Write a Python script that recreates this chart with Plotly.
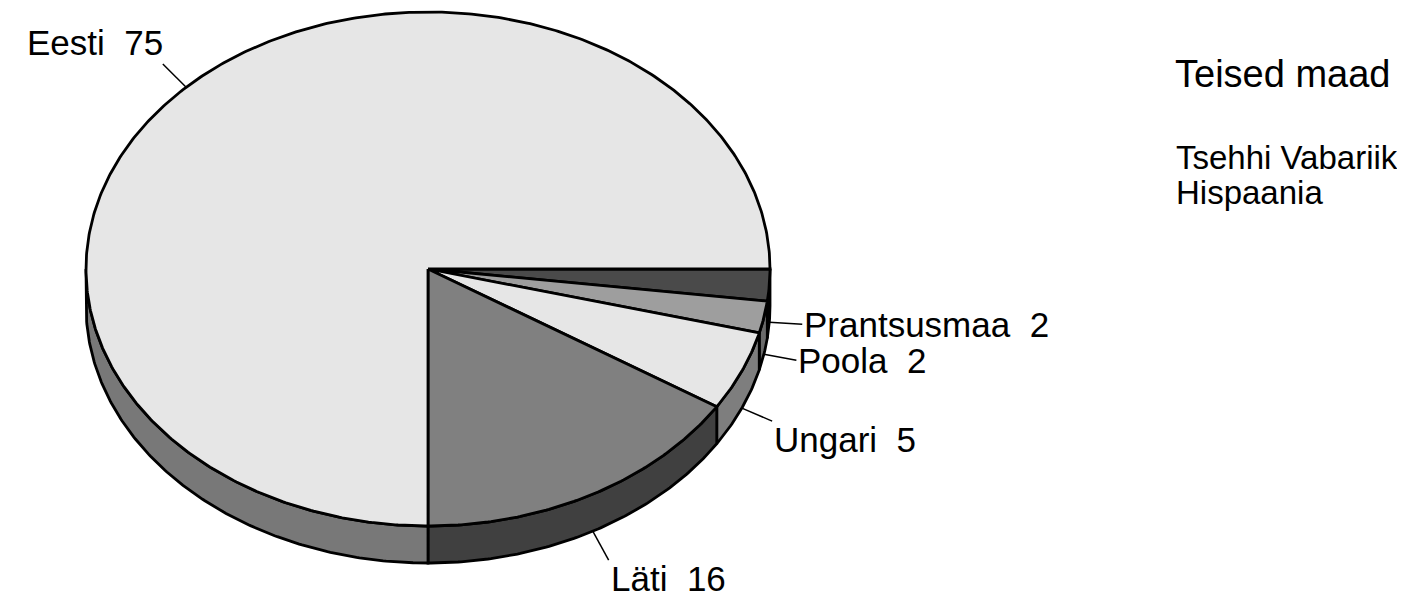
import numpy as np
import plotly.graph_objects as go

# ---- data ----
countries = ["Prantsusmaa", "Poola", "Ungari", "Läti", "Eesti"]
values = [2, 2, 5, 16, 75]
legend_title = "Teised maad"
other_countries = ["Tsehhi Vabariik", "Hispaania"]

# ---- style ----
top_colors = ["#4a4a4a", "#9e9e9e", "#e6e6e6", "#808080", "#e6e6e6"]
side_colors = ["#2a2a2a", "#6a6a6a", "#7e7e7e", "#404040", "#787878"]
W, H = 1405, 598
OFF = 8  # browser body margin
CX, CY, RX, RY, DEPTH = 428, 269, 342, 257, 37
LEADER = 33
FONT = "Liberation Sans, Arial, sans-serif"
LW = 2.8


def pt(t_deg, dz=0.0):
    t = np.radians(t_deg)
    return CX + RX * np.cos(t), CY + RY * np.sin(t) + dz


total = float(sum(values))
bounds = np.concatenate([[0.0], np.cumsum(values) / total * 360.0])

fig = go.Figure()

# side walls (front half only)
for i, name in enumerate(countries):
    a, b = bounds[i], bounds[i + 1]
    lo, hi = max(a, 0.0), min(b, 180.0)
    if hi <= lo:
        continue
    ts = np.linspace(lo, hi, max(8, int((hi - lo) * 2)))
    xt, yt = pt(ts)
    xb, yb = pt(ts[::-1], DEPTH)
    xs = np.concatenate([xt, xb, xt[:1]])
    ys = np.concatenate([yt, yb, yt[:1]])
    fig.add_trace(go.Scatter(x=xs, y=ys, mode="lines", fill="toself",
                             fillcolor=side_colors[i],
                             line=dict(color="black", width=LW),
                             hoverinfo="skip", showlegend=False))

# top faces
for i, name in enumerate(countries):
    a, b = bounds[i], bounds[i + 1]
    ts = np.linspace(a, b, max(8, int((b - a) * 2)))
    xa, ya = pt(ts)
    xs = np.concatenate([[CX], xa, [CX]])
    ys = np.concatenate([[CY], ya, [CY]])
    fig.add_trace(go.Scatter(x=xs, y=ys, mode="lines", fill="toself",
                             fillcolor=top_colors[i],
                             line=dict(color="black", width=LW, shape="linear"),
                             hoverinfo="skip", showlegend=False, name=name))

# leader lines + labels
annotations = []
for i, name in enumerate(countries):
    m = (bounds[i] + bounds[i + 1]) / 2.0
    front = 0 < m < 180
    sx, sy = pt(m, DEPTH if front else 0.0)
    c, s = np.cos(np.radians(m)), np.sin(np.radians(m))
    ex, ey = sx + LEADER * c, sy + LEADER * s
    fig.add_trace(go.Scatter(x=[sx, ex], y=[sy, ey], mode="lines",
                             line=dict(color="black", width=1.5),
                             hoverinfo="skip", showlegend=False))
    if s > 0.3:
        yanc = "top"
    elif s < -0.3:
        yanc = "bottom"
    else:
        yanc = "middle"
    annotations.append(dict(
        x=ex + (0 if c > 0 else 2), y=ey, xref="x", yref="y",
        text=f"{name}\u00a0 {values[i]}", showarrow=False,
        xanchor="left" if c > 0 else "right", yanchor=yanc,
        yshift=3 if yanc == "top" else 0,
        font=dict(family=FONT, size=35, color="black")))

annotations.append(dict(x=1173, y=74, xref="x", yref="y", text=legend_title,
                        showarrow=False, xanchor="left", yanchor="middle",
                        font=dict(family=FONT, size=38, color="black")))
for k, nm in enumerate(other_countries):
    annotations.append(dict(x=1174, y=157.5 + 34.5 * k, xref="x", yref="y", text=nm,
                            showarrow=False, xanchor="left", yanchor="middle",
                            font=dict(family=FONT, size=33, color="black")))

fig.update_layout(
    width=W, height=H,
    margin=dict(l=0, r=0, t=0, b=0),
    paper_bgcolor="white", plot_bgcolor="white",
    xaxis=dict(range=[OFF, W + OFF], visible=False, fixedrange=True),
    yaxis=dict(range=[H + OFF, OFF], visible=False, fixedrange=True),
    annotations=annotations,
    showlegend=False,
)

fig.write_html("out.html")
